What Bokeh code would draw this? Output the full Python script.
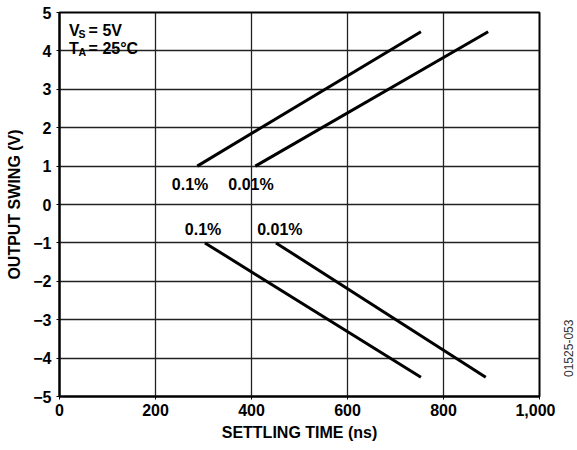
import math
from bokeh.plotting import figure
from bokeh.layouts import row
from bokeh.models import FixedTicker
from bokeh.core.properties import value
from bokeh.embed import file_html
from bokeh.resources import INLINE

# ---- data ----
rise_01_x = [287, 753]
rise_01_y = [1.0, 4.5]
rise_001_x = [408, 893]
rise_001_y = [1.0, 4.5]
fall_01_x = [303, 753]
fall_01_y = [-1.0, -4.5]
fall_001_x = [451, 888]
fall_001_y = [-1.0, -4.5]

pct_x = [272, 399, 299, 459]
pct_y = [0.52, 0.52, -0.65, -0.65]
pct_text = ["0.1%", "0.01%", "0.1%", "0.01%"]

x_ticks = [0, 200, 400, 600, 800, 1000]
x_tick_labels = ["0", "200", "400", "600", "800", "1,000"]
y_ticks = [-5, -4, -3, -2, -1, 0, 1, 2, 3, 4, 5]
y_tick_labels = ["\u22125", "\u22124", "\u22123", "\u22122", "\u22121", "0", "1", "2", "3", "4", "5"]

figure_code = "01525-053"

FONT = "Liberation Sans"
FS = "16px"
H = 446

p = figure(width=555, height=H, x_range=(0, 1000), y_range=(-5, 5),
           output_backend="svg", toolbar_location=None,
           min_border_left=59, min_border_right=16, min_border_top=12, min_border_bottom=50)
p.background_fill_color = "white"
p.border_fill_color = "white"
p.outline_line_color = "black"
p.outline_line_width = 2

for ax in (p.xaxis, p.yaxis):
    ax.axis_line_color = "black"
    ax.axis_line_width = 2
    ax.major_tick_out = 3
    ax.major_tick_in = 0
    ax.minor_tick_out = 0
    ax.minor_tick_in = 0
    ax.major_tick_line_color = "black"
    ax.major_label_text_font = FONT
    ax.major_label_text_font_size = FS
    ax.major_label_text_font_style = "bold"
    ax.major_label_text_color = "black"
    ax.axis_label_text_font = FONT
    ax.axis_label_text_font_size = FS
    ax.axis_label_text_font_style = "bold"
    ax.axis_label_text_color = "black"

p.xaxis.ticker = FixedTicker(ticks=x_ticks)
p.xaxis.major_label_overrides = dict(zip(x_ticks, x_tick_labels))
p.yaxis.ticker = FixedTicker(ticks=y_ticks)
p.yaxis.major_label_overrides = dict(zip(y_ticks, y_tick_labels))
p.xaxis.axis_label = "SETTLING TIME (ns)"
p.yaxis.axis_label = "OUTPUT SWING (V)"
p.xaxis.major_label_standoff = 4
p.yaxis.major_label_standoff = 5
p.xaxis.axis_label_standoff = 5
p.yaxis.axis_label_standoff = 7

for g in (p.xgrid, p.ygrid):
    g.grid_line_color = "#222222"
    g.grid_line_width = 1.3
    g.grid_line_alpha = 1.0
p.xgrid.ticker = FixedTicker(ticks=x_ticks)
p.ygrid.ticker = FixedTicker(ticks=y_ticks)

for xs, ys in ((rise_01_x, rise_01_y), (rise_001_x, rise_001_y),
               (fall_01_x, fall_01_y), (fall_001_x, fall_001_y)):
    p.line(xs, ys, line_color="black", line_width=3)

p.text(x=pct_x, y=pct_y, text=pct_text, text_font=value(FONT), text_font_size=FS,
       text_font_style="bold", text_align="center", text_baseline="middle", text_color="black")

# condition annotation with subscripts
ann_x = [20, 20, 20, 20, 20, 20]
ann_y = [4.53, 4.53, 4.53, 4.05, 4.05, 4.05]
ann_text = ["V", "S", "= 5V", "T", "A", "= 25\u00b0C"]
ann_dx = [0, 9.5, 19.5, 0, 9.5, 19.5]
ann_dy = [0, 3, 0, 0, 3, 0]
ann_fs = [FS, "10.5px", FS, FS, "10.5px", FS]
p.text(x=ann_x, y=ann_y, text=ann_text, x_offset=ann_dx, y_offset=ann_dy,
       text_font=value(FONT), text_font_size=ann_fs, text_font_style="bold",
       text_align="left", text_baseline="middle", text_color="black")

# narrow side panel carrying the figure code, rotated (no axes: 1 data unit = 1 px)
side = figure(width=20, height=H, x_range=(0, 20), y_range=(0, H),
              output_backend="svg", toolbar_location=None, title_location=None,
              x_axis_location=None, y_axis_location=None,
              min_border_left=0, min_border_right=0, min_border_top=0, min_border_bottom=0)
side.grid.visible = False
side.outline_line_color = None
side.background_fill_color = "white"
side.border_fill_color = "white"
side.text(x=[13], y=[H - 390], text=[figure_code], angle=math.pi / 2,
          text_font=value(FONT), text_font_size="12px", text_color="#333333",
          text_align="center", text_baseline="middle")

layout = row(p, side, spacing=0)
open("out.html", "w").write(file_html(layout, INLINE))
